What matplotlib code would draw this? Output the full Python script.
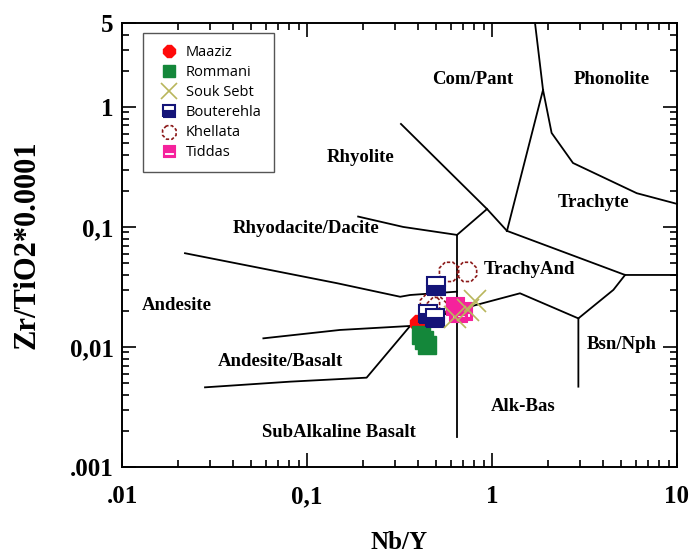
import matplotlib
matplotlib.use("Agg")
import matplotlib.pyplot as plt
from matplotlib.path import Path
from matplotlib.ticker import FixedLocator, FixedFormatter, LogLocator, NullFormatter

# --- sample data (Nb/Y, Zr/TiO2*0.0001) ---
maaziz_x = [0.398]
maaziz_y = [0.0158]
rommani_x = [0.411, 0.429, 0.445]
rommani_y = [0.0126, 0.0114, 0.0104]
souk_x = [0.809, 0.631, 0.741]
souk_y = [0.0242, 0.0178, 0.0203]
bout_x = [0.498, 0.451, 0.492]
bout_y = [0.0322, 0.0188, 0.0175]
khel_x = [0.586, 0.733, 0.462, 0.504]
khel_y = [0.0422, 0.0422, 0.0228, 0.0215]
tid_x = [0.631, 0.655, 0.697]
tid_y = [0.0220, 0.0192, 0.0200]

# --- field boundaries (Winchester & Floyd) ---
rhy_cp_x = [0.322, 0.94, 1.205]
rhy_cp_y = [0.721, 0.141, 0.0927]
rhy_ta_x = [0.94, 0.647]
rhy_ta_y = [0.141, 0.0858]
dac_x = [0.189, 0.331, 0.647]
dac_y = [0.122, 0.100, 0.0858]
vert_x = [0.647, 0.647]
vert_y = [0.0858, 0.00178]
pho_x = [1.708, 1.887, 2.10, 2.74, 6.06, 10]
pho_y = [5, 1.386, 0.607, 0.341, 0.191, 0.1556]
cp_tr_x = [1.205, 1.887]
cp_tr_y = [0.0927, 1.386]
tr_ta_x = [1.205, 5.24, 10]
tr_ta_y = [0.0927, 0.0398, 0.0398]
bsn_x = [5.24, 4.53, 2.93, 2.93]
bsn_y = [0.0398, 0.0299, 0.0173, 0.00467]
ta_ab_x = [0.361, 0.647, 1.417, 2.93]
ta_ab_y = [0.01496, 0.0203, 0.028, 0.0173]
and_x = [0.0219, 0.0631, 0.145, 0.319, 0.361, 0.647]
and_y = [0.0604, 0.0438, 0.034, 0.0262, 0.0271, 0.0289]
andbas_x = [0.0581, 0.1507, 0.361]
andbas_y = [0.0118, 0.01386, 0.01496]
subalk_x = [0.0281, 0.081, 0.210, 0.361]
subalk_y = [0.00461, 0.00514, 0.00555, 0.01496]

field_names = ["Com/Pant", "Phonolite", "Rhyolite", "Trachyte", "Rhyodacite/Dacite",
               "TrachyAnd", "Andesite", "Andesite/Basalt", "Bsn/Nph", "Alk-Bas",
               "SubAlkaline Basalt"]
field_x = [0.789, 4.45, 0.196, 3.52, 0.0989, 1.60, 0.0198, 0.0723, 5.02, 1.47, 0.149]
field_y = [1.68, 1.68, 0.376, 0.161, 0.0962, 0.0438, 0.022, 0.0075, 0.0104, 0.00318, 0.00192]

xticks = [0.01, 0.1, 1, 10]
xtick_labels = [".01", "0,1", "1", "10"]
yticks = [0.001, 0.01, 0.1, 1, 5]
ytick_labels = [".001", "0,01", "0,1", "1", "5"]

serif = "Liberation Serif"

fig = plt.figure(figsize=(6.89, 5.56), dpi=100)
ax = fig.add_axes([122 / 689, 1 - 467 / 556, 555 / 689, 444 / 556])
ax.set_xscale("log")
ax.set_yscale("log")
ax.set_xlim(0.01, 10)
ax.set_ylim(0.001, 5)

# boundaries
bounds = [(rhy_cp_x, rhy_cp_y), (rhy_ta_x, rhy_ta_y), (dac_x, dac_y), (vert_x, vert_y),
          (pho_x, pho_y), (cp_tr_x, cp_tr_y), (tr_ta_x, tr_ta_y), (bsn_x, bsn_y),
          (ta_ab_x, ta_ab_y), (and_x, and_y), (andbas_x, andbas_y), (subalk_x, subalk_y)]
for bx, by in bounds:
    ax.plot(bx, by, color="black", lw=1.3, zorder=1, clip_on=False)

for name, fx, fy in zip(field_names, field_x, field_y):
    ax.text(fx, fy, name, ha="center", va="center", fontsize=13.5,
            fontweight="bold", family=serif, zorder=2)

# tiddas marker: square with a white band near the bottom (inner ring reversed = hole)
tid_marker = Path(
    [(-1, -1), (1, -1), (1, 1), (-1, 1), (-1, -1),
     (-0.72, -0.62), (-0.72, -0.18), (0.72, -0.18), (0.72, -0.62), (-0.72, -0.62)],
    [Path.MOVETO, Path.LINETO, Path.LINETO, Path.LINETO, Path.CLOSEPOLY,
     Path.MOVETO, Path.LINETO, Path.LINETO, Path.LINETO, Path.CLOSEPOLY])

ms = 13
khel = ax.scatter(khel_x, khel_y, s=15 ** 2, marker="8", facecolors="none",
                  edgecolors="#8c1a1a", linewidths=1.2, linestyles=(0, (2, 1.2)),
                  label="Khellata", zorder=3)
maa, = ax.plot(maaziz_x, maaziz_y, ls="none", marker="8", ms=ms, color="#ff0a0a",
               mec="#ff0a0a", label="Maaziz", zorder=4)
rom, = ax.plot(rommani_x, rommani_y, ls="none", marker="s", ms=ms, color="#14873a",
               mec="#14873a", label="Rommani", zorder=5)
bout, = ax.plot(bout_x, bout_y, ls="none", marker="s", ms=ms, fillstyle="bottom",
                mfc="#141478", mfcalt="white", mec="#141478", mew=1.5,
                label="Bouterehla", zorder=6)
tid, = ax.plot(tid_x, tid_y, ls="none", marker=tid_marker, ms=ms, color="#f5229c",
               mec="#f5229c", mew=0.8, label="Tiddas", zorder=7)
souk, = ax.plot(souk_x, souk_y, ls="none", marker="x", ms=ms + 3, color="#b9b65c",
                mew=1.2, label="Souk Sebt", zorder=8)

leg = ax.legend(handles=[maa, rom, souk, bout, khel, tid], loc="upper left",
                bbox_to_anchor=(0.038, 0.977), borderaxespad=0, fancybox=False,
                edgecolor="#555555", framealpha=1, markerscale=0.7,
                prop={"family": "Open Sans", "size": 10.5},
                borderpad=0.8, handlelength=2.0, handletextpad=0.15, labelspacing=0.35)
leg.get_frame().set_linewidth(1.0)

# axes and ticks
for sp in ax.spines.values():
    sp.set_linewidth(1.4)
ax.xaxis.set_major_locator(FixedLocator(xticks))
ax.xaxis.set_major_formatter(FixedFormatter(xtick_labels))
ax.yaxis.set_major_locator(FixedLocator(yticks))
ax.yaxis.set_major_formatter(FixedFormatter(ytick_labels))
ax.xaxis.set_minor_locator(LogLocator(base=10, subs=range(2, 10)))
ax.yaxis.set_minor_locator(LogLocator(base=10, subs=range(2, 10)))
ax.xaxis.set_minor_formatter(NullFormatter())
ax.yaxis.set_minor_formatter(NullFormatter())
ax.tick_params(which="both", direction="in", top=True, right=True, width=1.2)
ax.tick_params(which="major", length=10)
ax.tick_params(which="minor", length=5)
ax.tick_params(axis="x", which="major", pad=13)
ax.tick_params(axis="y", which="major", pad=6)
for lab in ax.get_xticklabels() + ax.get_yticklabels():
    lab.set_family(serif)
    lab.set_fontweight("bold")
    lab.set_fontsize(18)

ax.set_xlabel("Nb/Y", family=serif, fontweight="bold", fontsize=18)
ax.set_ylabel("Zr/TiO2*0.0001", family=serif, fontweight="bold", fontsize=22)
ax.xaxis.set_label_coords(0.5, -0.145)
ax.yaxis.set_label_coords(-0.145, 0.5)

fig.savefig("out.png", dpi=100)
